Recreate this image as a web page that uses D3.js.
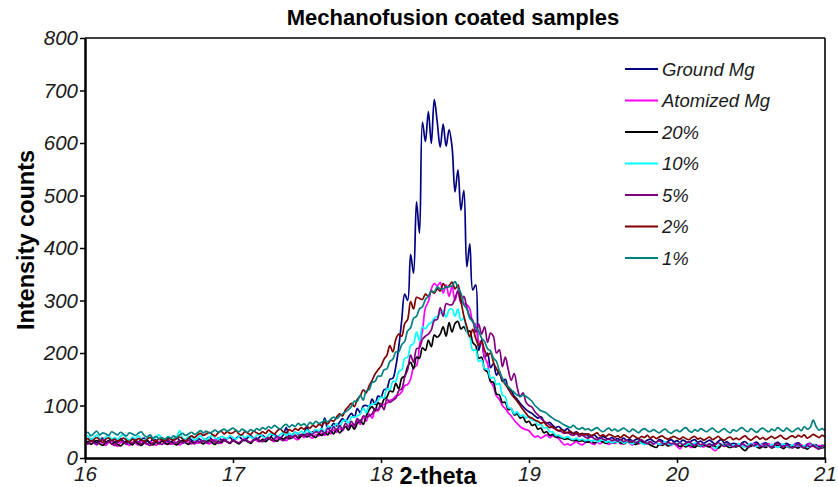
<!DOCTYPE html>
<meta charset="utf-8">
<script src="https://d3js.org/d3.v7.min.js"></script>
<style>
  body { margin: 0; background: #fff; }
  text { font-family: "Liberation Sans", Arial, sans-serif; }
  .tick-label { font-size: 20.5px; font-style: italic; fill: #1a1a1a; }
  .legend-label { font-size: 18.5px; font-style: italic; fill: #1a1a1a; }
  .title { font-size: 22px; font-weight: bold; }
  .axis-title { font-size: 23.5px; font-weight: bold; }
</style>
<div id="chart"></div>
<script>
// scan grid: 2-theta from 16 to 21, step 0.02
var thetaStart = 16, thetaStep = 0.02;

var seriesNames = ["Ground Mg", "Atomized Mg", "20%", "10%", "5%", "2%", "1%"];
var seriesColors = ["#000080", "#ff00ff", "#000000", "#00ffff", "#800080", "#800000", "#008080"];
var xTicks = [16, 17, 18, 19, 20, 21];
var yTicks = [0, 100, 200, 300, 400, 500, 600, 700, 800];

var groundMg = [
  34,30,36,33,29,35,38,31,33,36, 30,34,37,32,29,33,36,34,30,35,
  38,33,31,36,34,29,37,35,32,30, 36,39,33,31,35,38,34,32,37,35,
  31,36,40,34,33,38,35,32,37,39, 34,37,41,36,33,39,42,37,35,40,
  43,38,36,42,45,40,38,44,58,41, 44,49,45,42,48,58,47,50,53,48,
  58,76,56,58,66,61,68,75,70,78, 85,78,94,86,99,100,98,112,102,118,
  116,130,132,150,152,174,212,262,312,300, 388,352,488,428,640,603,660,599,683,640,
  592,636,594,625,593,507,549,472,510,364, 408,320,330,205,225,190,200,172,180,158,
  165,146,150,132,128,118,112,104,98,92, 88,85,80,76,79,70,66,68,62,58,
  60,55,52,56,49,47,50,45,43,46, 42,40,44,39,37,41,38,36,39,35,
  37,34,38,33,36,32,35,37,33,31, 34,36,32,30,35,33,29,32,35,31,
  33,30,34,31,29,33,35,30,32,28, 31,34,30,27,32,35,29,31,26,28,
  27,24,29,31,26,22,28,30,25,27, 29,25,22,27,30,26,24,28,25,23,
  27,29,24,22,26,28,23,25,21,24, 22
];
var atomizedMg = [
  30,27,33,29,25,31,28,24,30,33, 26,22,29,31,27,24,30,28,25,32,
  29,26,31,28,24,30,33,27,29,26, 31,28,25,30,34,29,27,32,28,30,
  33,29,27,31,35,30,28,33,31,29, 34,31,28,33,36,32,30,35,33,31,
  36,33,38,34,31,37,40,35,33,38, 41,37,35,42,39,44,40,38,45,42,
  47,43,50,46,53,49,56,52,60,57, 64,58,72,64,78,70,84,76,90,90,
  100,102,104,110,112,118,120,126,138,140, 150,172,176,214,242,286,298,322,332,328,
  334,314,330,308,326,300,320,296,294,292, 284,258,254,222,220,192,180,146,136,118,
  112,100,94,86,80,72,66,60,56,54, 52,45,40,42,38,41,44,39,42,40,
  37,30,25,27,24,28,31,27,25,29, 32,28,26,30,27,31,29,26,30,28,
  31,27,29,33,28,25,30,27,29,26, 28,31,26,29,25,28,30,26,24,28,
  22,18,24,27,23,20,25,28,24,21, 25,22,17,14,21,26,23,27,24,22,
  26,23,27,24,21,25,28,24,22,26, 23,27,24,21,25,22,26,23,20,24,
  26,22,25,21,24,27,23,20,24,22, 25
];
var pct20 = [
  28,31,26,30,33,27,24,29,32,27, 30,26,23,28,32,29,25,31,27,24,
  29,33,28,25,30,27,32,29,26,31, 28,25,30,33,29,26,31,28,32,30,
  27,31,34,29,26,32,30,35,31,28, 33,30,27,32,35,31,28,34,37,32,
  35,31,36,39,34,32,38,36,40,37, 39,43,38,41,45,40,44,42,39,46,
  43,50,44,52,46,55,48,54,60,53, 62,55,66,72,64,80,92,98,90,106,
  98,112,116,128,126,142,132,152,156,174, 182,170,192,190,210,205,224,212,234,230,
  236,250,232,258,240,256,260,246,250,240, 242,220,214,190,192,168,164,146,144,122,
  120,106,106,92,94,82,84,76,78,68, 70,62,64,55,57,48,50,43,45,40,
  40,38,36,37,35,33,34,32,33,31, 30,32,29,31,33,30,28,31,29,30,
  31,29,27,30,32,28,26,29,31,27, 28,25,22,20,26,24,27,23,25,28,
  26,22,24,21,25,23,20,24,22,25, 23,21,25,22,19,24,26,22,20,23,
  21,24,18,14,20,23,25,21,19,22, 20,23,19,22,24,21,18,22,20,23,
  21,19,23,20,17,22,24,20,21,19, 22
];
var pct10 = [
  38,42,35,39,44,37,33,40,43,36, 39,35,41,45,38,34,40,37,42,36,
  33,39,42,36,40,44,37,34,41,38, 35,40,52,38,36,41,39,34,38,42,
  37,35,40,43,38,36,41,39,37,42, 39,36,41,44,38,42,40,37,43,45,
  41,38,44,46,42,40,45,48,43,47, 44,49,46,51,47,53,50,48,54,51,
  56,50,60,60,58,66,58,70,72,66, 78,78,80,84,95,86,100,102,104,110,
  116,114,132,130,146,146,165,168,190,192, 214,218,240,224,250,246,254,258,266,270,
  276,280,268,282,284,270,284,262,266,240, 230,205,206,184,186,170,170,152,154,140,
  142,120,116,96,94,84,88,80,82,76, 80,72,72,63,64,57,58,50,50,43,
  43,40,38,41,37,35,38,34,36,33, 35,32,34,31,33,35,30,32,29,31,
  30,33,28,31,29,27,30,32,28,26, 29,31,27,30,26,28,31,27,25,29,
  27,30,26,24,28,25,29,26,23,27, 25,28,22,18,24,27,23,26,22,25,
  24,27,23,21,25,28,24,22,26,23, 25,22,26,23,20,24,27,23,21,25,
  22,25,21,24,20,23,26,22,18,21, 24
];
var pct5 = [
  30,27,33,29,26,32,35,28,31,27, 24,29,33,30,26,31,28,34,30,27,
  31,27,24,29,33,28,26,31,35,29, 27,30,33,28,31,34,29,27,32,30,
  33,29,31,35,30,28,33,36,31,29, 34,31,29,33,36,32,30,35,38,33,
  31,36,39,34,37,41,36,33,38,42, 39,43,40,45,42,47,43,46,50,48,
  52,46,57,50,60,52,62,55,66,60, 70,62,75,68,80,78,80,84,94,92,
  104,92,112,106,110,114,128,132,154,168, 196,182,208,210,226,232,236,244,262,264,
  286,270,294,292,292,304,318,296,308,286, 269,262,240,255,236,250,220,238,231,200,
  206,174,192,168,148,161,135,117,124,106, 100,97,88,82,76,70,67,63,58,55,
  52,50,47,49,45,43,46,41,44,40, 38,41,37,35,39,36,34,37,33,35,
  32,35,31,34,30,33,29,32,35,30, 28,31,27,30,33,29,26,30,27,29,
  26,29,25,28,31,27,24,28,25,27, 24,27,23,26,29,25,22,26,24,21,
  25,22,27,24,21,26,23,27,24,22, 26,23,20,25,28,24,21,25,22,19,
  23,26,22,19,24,21,25,20,17,22, 24
];
var pct2 = [
  33,37,31,35,39,34,30,36,38,33, 36,32,35,38,34,31,36,33,37,35,
  32,36,39,34,31,37,35,33,38,36, 34,37,40,36,33,38,42,39,44,47,
  43,46,49,45,42,48,51,46,50,47, 48,52,46,44,50,47,45,51,48,46,
  50,47,53,49,46,52,55,50,48,54, 51,56,53,58,55,60,57,62,59,64,
  62,68,65,72,70,78,84,80,92,98, 104,98,112,118,130,124,138,148,160,168,
  175,188,196,214,202,226,236,232,256,264, 298,284,306,304,302,312,308,318,314,322,
  318,332,325,328,335,322,330,300,270,250, 231,245,228,215,222,205,195,200,182,170,
  160,150,140,132,122,115,108,100,92,85, 78,76,72,70,66,68,62,58,60,55,
  52,54,50,48,51,46,49,45,47,44, 46,43,45,48,42,44,41,45,43,40,
  42,39,44,41,38,43,40,37,41,39, 43,38,41,37,40,42,38,36,39,41,
  38,36,40,37,35,39,41,36,38,34, 37,40,35,38,41,36,34,38,40,35,
  38,35,39,42,37,34,38,41,36,39, 35,38,41,37,40,43,38,36,40,42,
  39,43,40,44,38,41,45,42,39,43, 40
];
var pct1 = [
  45,49,42,47,51,44,48,46,43,50, 47,44,49,45,42,48,46,43,47,50,
  43,40,44,38,41,37,39,36,40,38, 42,39,44,47,43,46,49,45,48,52,
  48,51,47,50,53,49,52,55,51,54, 57,53,50,55,52,49,54,51,56,53,
  58,55,60,57,62,58,55,61,64,59, 63,60,66,62,65,61,68,64,70,66,
  68,72,69,74,78,75,80,84,88,92, 98,108,108,120,110,128,130,144,146,156,
  156,168,170,184,188,202,202,216,222,242, 248,266,270,284,288,302,308,318,316,326,
  322,322,326,326,328,336,324,314,292,284, 266,260,248,242,228,222,208,204,190,184,
  165,152,142,136,130,125,120,117,120,117, 113,108,100,95,90,88,85,80,76,72,
  70,66,63,60,58,62,57,55,58,54, 56,52,55,58,53,50,54,57,52,55,
  51,54,57,53,50,55,52,48,53,56, 52,50,54,51,48,52,55,50,47,51,
  53,50,55,58,52,49,54,51,56,53, 50,54,57,52,49,53,56,51,48,54,
  51,55,58,53,50,56,52,49,54,57, 53,50,55,52,58,54,51,57,53,50,
  54,57,52,60,55,58,72,60,53,56, 52
];

var seriesValues = [groundMg, atomizedMg, pct20, pct10, pct5, pct2, pct1];

var W = 838, H = 487;
var margin = {top: 38, right: 13, bottom: 29, left: 85};
var iw = W - margin.left - margin.right,
    ih = H - margin.top - margin.bottom;

var svg = d3.select("#chart").append("svg")
    .attr("width", W)
    .attr("height", H);

var x = d3.scaleLinear().domain([16, 21]).range([0, iw]);
var y = d3.scaleLinear().domain([0, 800]).range([ih, 0]);

var g = svg.append("g")
    .attr("transform", "translate(" + margin.left + "," + margin.top + ")");

svg.append("defs").append("clipPath").attr("id", "plotclip")
  .append("rect").attr("width", iw).attr("height", ih);

// lines
var line = d3.line()
    .x(function(d, i) { return x(thetaStart + i * thetaStep); })
    .y(function(d) { return y(d); })
    .curve(d3.curveCatmullRom.alpha(0.5));

g.append("g").attr("clip-path", "url(#plotclip)")
  .selectAll("path")
  .data(seriesValues)
  .enter().append("path")
    .attr("d", line)
    .attr("fill", "none")
    .attr("stroke", function(d, i) { return seriesColors[i]; })
    .attr("stroke-width", 1.7)
    .attr("stroke-linejoin", "round");

// frame: top and right
g.append("line").attr("x1", 0).attr("x2", iw).attr("y1", 0).attr("y2", 0)
  .attr("stroke", "#000").attr("stroke-width", 1.6);
g.append("line").attr("x1", iw).attr("x2", iw).attr("y1", 0).attr("y2", ih)
  .attr("stroke", "#000").attr("stroke-width", 1.6);

// y axis
var yAxis = g.append("g")
    .call(d3.axisLeft(y).tickValues(yTicks).tickSize(5).tickSizeOuter(0).tickPadding(2));
yAxis.select(".domain").attr("stroke-width", 2.5);
yAxis.selectAll(".tick line").attr("stroke-width", 1.5);
yAxis.selectAll(".tick text").attr("class", "tick-label").attr("font-size", null).attr("font-family", null);

// x axis
var xAxis = g.append("g")
    .attr("transform", "translate(0," + ih + ")")
    .call(d3.axisBottom(x).tickValues(xTicks).tickSize(5).tickSizeOuter(0).tickPadding(3)
      .tickFormat(d3.format("d")));
xAxis.select(".domain").attr("stroke-width", 2.5);
xAxis.selectAll(".tick line").attr("stroke-width", 1.5);
xAxis.selectAll(".tick text").attr("class", "tick-label").attr("font-size", null).attr("font-family", null);

// titles
svg.append("text").attr("class", "title")
  .attr("x", 453).attr("y", 25).attr("text-anchor", "middle")
  .text("Mechanofusion coated samples");

svg.append("text").attr("class", "axis-title")
  .attr("transform", "translate(34,240) rotate(-90)")
  .attr("text-anchor", "middle")
  .text("Intensity counts");

svg.append("text").attr("class", "axis-title")
  .attr("x", 438).attr("y", 484).attr("text-anchor", "middle")
  .text("2-theta");

// legend
var legend = svg.append("g").attr("transform", "translate(625,69)");
var items = legend.selectAll("g").data(seriesNames).enter().append("g")
  .attr("transform", function(d, i) { return "translate(0," + (i * 31.5) + ")"; });
items.append("line")
  .attr("x1", 0).attr("x2", 33).attr("y1", 0).attr("y2", 0)
  .attr("stroke", function(d, i) { return seriesColors[i]; })
  .attr("stroke-width", 1.8);
items.append("text").attr("class", "legend-label")
  .attr("x", 37).attr("y", 6.5)
  .text(function(d) { return d; });
</script>
